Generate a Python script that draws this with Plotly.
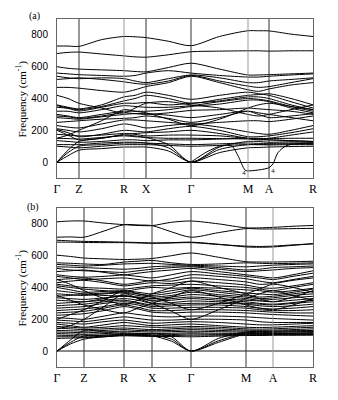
import plotly.graph_objects as go

# high-symmetry path (same labels in both panels, spacing differs a little)
labels = ["Γ", "Z", "R", "X", "Γ", "M", "A", "R"]
kpos_a = [0, 22, 67, 89, 134, 191, 212, 256]
kpos_b = [0, 27, 67, 95, 134, 189, 216, 256]
vline_col_a = ["#333", "#999", "#333", "#333", "#999", "#333"]
vline_col_b = ["#333", "#333", "#333", "#333", "#333", "#999"]

# each band: values at Γ, mid, Z, mid, R, mid, X, mid, Γ, mid, M, mid, A, mid, R
bands_a = [
    [730, 730, 728, 770, 790, 788, 783, 760, 732, 790, 826, 826, 825, 805, 790],
    [683, 690, 692, 680, 668, 662, 660, 675, 694, 698, 700, 700, 698, 700, 700],
    [600, 590, 585, 580, 575, 570, 568, 595, 622, 585, 548, 548, 550, 555, 560],
    [560, 555, 550, 545, 540, 545, 560, 575, 560, 545, 535, 535, 540, 548, 555],
    [540, 530, 525, 530, 525, 510, 500, 525, 548, 530, 500, 500, 510, 520, 530],
    [520, 525, 530, 520, 505, 495, 490, 510, 545, 510, 478, 470, 475, 500, 525],
    [470, 470, 465, 450, 440, 455, 475, 500, 540, 500, 455, 445, 460, 485, 500],
    [360, 345, 335, 360, 410, 420, 440, 420, 395, 420, 440, 430, 420, 380, 340],
    [355, 340, 330, 350, 385, 400, 420, 400, 370, 395, 420, 425, 430, 400, 360],
    [345, 338, 322, 345, 370, 370, 375, 360, 370, 385, 410, 410, 400, 360, 330],
    [320, 320, 310, 330, 355, 350, 345, 345, 355, 380, 400, 395, 385, 350, 320],
    [300, 290, 280, 300, 320, 320, 320, 330, 350, 365, 390, 390, 380, 340, 310],
    [290, 285, 275, 290, 310, 305, 300, 310, 325, 330, 340, 335, 330, 320, 300],
    [280, 275, 270, 285, 300, 305, 305, 295, 280, 300, 320, 300, 280, 290, 305],
    [250, 255, 260, 270, 275, 280, 290, 275, 250, 280, 320, 310, 300, 280, 260],
    [230, 220, 215, 240, 265, 265, 260, 250, 240, 250, 260, 260, 255, 270, 290],
    [210, 200, 190, 210, 240, 230, 215, 230, 240, 220, 190, 180, 175, 200, 230],
    [205, 185, 160, 175, 200, 195, 190, 210, 225, 200, 160, 160, 165, 185, 210],
    [200, 170, 140, 150, 175, 180, 185, 190, 200, 180, 150, 145, 150, 170, 190],
    [175, 170, 165, 170, 180, 175, 165, 170, 170, 165, 150, 150, 148, 150, 150],
    [150, 148, 145, 155, 165, 160, 155, 150, 150, 148, 145, 140, 140, 135, 130],
    [135, 130, 125, 130, 140, 140, 135, 140, 140, 145, 150, 145, 140, 135, 130],
    [110, 110, 110, 120, 125, 125, 120, 115, 110, 115, 120, 118, 118, 120, 120],
    [100, 95, 90, 100, 110, 110, 110, 105, 100, 105, 110, 110, 112, 115, 115],
    [150, 170, 200, 260, 330, 320, 310, 270, 230, 270, 340, 360, 370, 350, 330],
    [420, 400, 370, 340, 310, 340, 370, 380, 360, 340, 300, 290, 300, 330, 360],
    [0, 75, 130, 150, 170, 165, 155, 110, 0, 95, 130, 130, 125, 128, 125],
    [0, 60, 100, 110, 120, 120, 120, 90, 0, 80, 110, 110, 108, 110, 110],
    [0, 40, 75, 85, 95, 95, 95, 70, 0, 60, 90, 92, 95, 98, 100],
]

# soft (imaginary) branch in panel (a), Γ -> M -> A -> R
soft_k = [134, 150, 165, 175, 181, 188, 191, 212, 216, 221, 230, 256]
soft_f = [0, 65, 105, 100, 40, -50, -55, -35, -10, 60, 105, 120]
soft_tag_k = [187, 216]
soft_tag_f = [-70, -58]

bands_b = [
    [813, 818, 818, 805, 795, 790, 789, 810, 818, 800, 775, 775, 778, 785, 790],
    [716, 718, 716, 755, 795, 793, 789, 750, 716, 745, 770, 768, 768, 770, 772],
    [697, 693, 690, 688, 685, 683, 680, 682, 685, 672, 655, 653, 655, 665, 675],
    [685, 685, 683, 682, 682, 680, 678, 680, 682, 670, 660, 658, 660, 668, 675],
    [603, 595, 585, 580, 576, 578, 582, 600, 617, 590, 562, 560, 560, 562, 565],
    [555, 552, 548, 545, 560, 565, 570, 555, 545, 548, 555, 552, 550, 552, 555],
    [545, 540, 535, 540, 548, 550, 552, 545, 540, 535, 530, 535, 540, 545, 548],
    [530, 528, 525, 520, 515, 520, 530, 535, 535, 525, 510, 515, 525, 530, 535],
    [520, 510, 505, 500, 495, 505, 515, 525, 530, 515, 500, 505, 510, 520, 525],
    [500, 505, 510, 495, 480, 490, 500, 510, 520, 500, 480, 470, 460, 480, 505],
    [480, 470, 465, 470, 478, 470, 460, 480, 500, 485, 470, 460, 450, 470, 490],
    [470, 460, 450, 455, 460, 450, 440, 455, 480, 470, 455, 440, 430, 450, 470],
    [450, 455, 460, 440, 420, 430, 445, 440, 460, 450, 435, 420, 425, 445, 460],
    [430, 440, 445, 430, 410, 420, 430, 425, 440, 430, 415, 400, 395, 410, 430],
    [420, 410, 400, 395, 390, 400, 410, 415, 420, 410, 400, 390, 380, 400, 420],
    [410, 400, 390, 380, 375, 390, 400, 395, 400, 395, 385, 380, 370, 380, 395],
    [400, 385, 370, 375, 380, 370, 360, 380, 395, 380, 365, 360, 355, 370, 390],
    [380, 370, 360, 365, 370, 360, 350, 365, 385, 370, 350, 340, 345, 360, 375],
    [360, 355, 350, 360, 365, 350, 340, 350, 370, 355, 340, 330, 335, 350, 360],
    [345, 350, 355, 350, 345, 340, 330, 340, 355, 345, 330, 320, 325, 335, 345],
    [335, 330, 325, 335, 345, 335, 320, 330, 340, 330, 320, 315, 310, 320, 330],
    [320, 315, 310, 330, 350, 335, 315, 320, 330, 320, 310, 300, 295, 305, 320],
    [300, 305, 310, 320, 330, 320, 300, 305, 315, 310, 300, 295, 290, 300, 310],
    [285, 290, 295, 310, 320, 305, 290, 295, 300, 300, 295, 285, 280, 285, 295],
    [270, 275, 280, 300, 310, 300, 280, 285, 290, 290, 280, 270, 265, 270, 280],
    [255, 260, 265, 280, 300, 290, 270, 270, 275, 275, 270, 260, 255, 255, 260],
    [240, 245, 250, 270, 290, 275, 255, 255, 260, 260, 255, 250, 245, 240, 240],
    [225, 230, 235, 255, 280, 265, 245, 240, 245, 245, 240, 235, 230, 225, 220],
    [210, 205, 200, 220, 240, 230, 220, 215, 220, 220, 215, 210, 205, 200, 195],
    [195, 190, 185, 200, 215, 205, 195, 195, 200, 200, 195, 185, 180, 180, 180],
    [180, 175, 170, 185, 195, 185, 175, 180, 185, 180, 170, 165, 165, 170, 175],
    [170, 160, 150, 165, 180, 170, 160, 165, 170, 160, 150, 148, 150, 155, 160],
    [155, 150, 145, 150, 160, 155, 150, 150, 155, 150, 140, 138, 140, 145, 150],
    [145, 140, 135, 140, 145, 140, 135, 140, 145, 140, 132, 130, 132, 135, 140],
    [130, 128, 125, 130, 135, 130, 128, 130, 135, 130, 125, 122, 125, 128, 130],
    [120, 118, 115, 120, 125, 122, 120, 122, 125, 122, 118, 116, 118, 120, 122],
    [110, 108, 105, 110, 115, 112, 110, 112, 115, 112, 110, 108, 110, 112, 115],
    [100, 98, 95, 100, 105, 102, 100, 104, 108, 105, 104, 103, 104, 106, 108],
    [90, 90, 88, 94, 100, 98, 95, 98, 100, 100, 100, 100, 102, 102, 104],
    [80, 82, 84, 90, 96, 94, 92, 92, 90, 94, 98, 98, 100, 100, 100],
    [140, 160, 200, 280, 360, 330, 300, 250, 200, 260, 330, 360, 380, 350, 320],
    [450, 420, 380, 330, 290, 320, 360, 400, 440, 400, 360, 330, 310, 340, 380],
    [200, 230, 260, 320, 380, 360, 340, 300, 260, 300, 360, 390, 420, 400, 370],
    [350, 320, 290, 260, 240, 270, 300, 340, 380, 340, 290, 270, 260, 290, 330],
    [0, 70, 130, 120, 110, 110, 110, 90, 0, 80, 120, 122, 125, 125, 125],
    [0, 55, 95, 100, 105, 104, 102, 75, 0, 65, 112, 112, 113, 113, 115],
    [0, 45, 75, 90, 100, 98, 96, 62, 0, 55, 108, 108, 108, 108, 108],
]

yticks = [0, 200, 400, 600, 800]


def kgrid(kpos):
    # symmetry points plus the midpoint of every segment
    out = []
    for i in range(len(kpos) - 1):
        out += [kpos[i], (kpos[i] + kpos[i + 1]) / 2]
    return out + [kpos[-1]]


fig = go.Figure()
line = dict(color="black", width=1, shape="spline", smoothing=0.8)

ka = kgrid(kpos_a)
for b in bands_a:
    fig.add_trace(go.Scatter(x=ka, y=b, mode="lines", line=line,
                             xaxis="x", yaxis="y", showlegend=False))
fig.add_trace(go.Scatter(x=soft_k, y=soft_f, mode="lines", line=line,
                         xaxis="x", yaxis="y", showlegend=False))
fig.add_trace(go.Scatter(x=soft_tag_k, y=soft_tag_f, mode="text", text=["4", "4"],
                         textfont=dict(size=6, color="black"),
                         xaxis="x", yaxis="y", showlegend=False))

kb = kgrid(kpos_b)
for b in bands_b:
    fig.add_trace(go.Scatter(x=kb, y=b, mode="lines", line=line,
                             xaxis="x2", yaxis="y2", showlegend=False))

# vertical lines at the inner symmetry points
for k, c in zip(kpos_a[1:-1], vline_col_a):
    fig.add_shape(type="line", xref="x", yref="y domain", x0=k, x1=k, y0=0, y1=1,
                  line=dict(color=c, width=1))
for k, c in zip(kpos_b[1:-1], vline_col_b):
    fig.add_shape(type="line", xref="x2", yref="y2 domain", x0=k, x1=k, y0=0, y1=1,
                  line=dict(color=c, width=1))

xax = dict(range=[0, 256], ticktext=labels, showgrid=False,
           zeroline=False, showline=True, mirror=True, linecolor="#666", linewidth=1,
           ticks="", tickfont=dict(family="Liberation Serif", size=12, color="black"))
yax = dict(range=[-100, 900], tickvals=yticks, showgrid=False, zeroline=True,
           showline=True, mirror=True, linecolor="#666", linewidth=1,
           ticks="", ticklabelstandoff=6,
           tickfont=dict(family="Liberation Sans", size=10, color="black"))

# the page adds an 8 px body margin, so the figure is shrunk to match
fig.update_layout(
    width=330, height=392,
    margin=dict(l=49, r=25, t=11, b=33),
    paper_bgcolor="white", plot_bgcolor="white",
    xaxis=dict(xax, tickvals=kpos_a, domain=[0, 1], anchor="y"),
    yaxis=dict(yax, domain=[0.543, 1], anchor="x", zerolinecolor="black", zerolinewidth=1),
    xaxis2=dict(xax, tickvals=kpos_b, domain=[0, 1], anchor="y2"),
    yaxis2=dict(yax, domain=[0, 0.457], anchor="x2", zerolinecolor="#888", zerolinewidth=1.5),
)

serif = dict(family="Liberation Serif", size=11, color="black")
fig.add_annotation(text="(a)", xref="paper", yref="paper", x=-0.086, y=1.009,
                   xanchor="center", yanchor="middle",
                   showarrow=False, font=dict(serif, size=10))
fig.add_annotation(text="(b)", xref="paper", yref="paper", x=-0.094, y=0.46,
                   xanchor="center", yanchor="middle",
                   showarrow=False, font=dict(serif, size=10))
for yc in [0.7715, 0.2285]:
    fig.add_annotation(text="Frequency (cm<sup>-1</sup>)", xref="paper", yref="paper",
                       x=-0.137, y=yc, textangle=-90, xanchor="center", yanchor="middle",
                       showarrow=False, font=serif)

fig.write_html("out.html")
